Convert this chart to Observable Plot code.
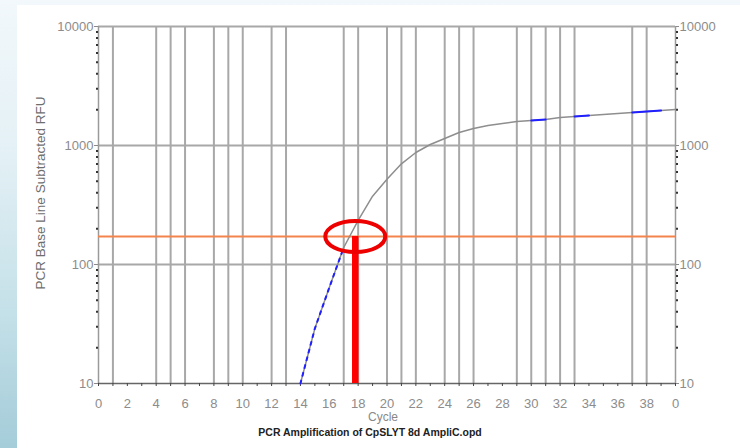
<!DOCTYPE html>
<html><head><meta charset="utf-8">
<script src="https://cdn.jsdelivr.net/npm/d3@7"></script>
<script src="https://cdn.jsdelivr.net/npm/@observablehq/plot@0.6"></script>
<style>
html,body{margin:0;padding:0;width:740px;height:448px;overflow:hidden;}
body{position:relative;background:linear-gradient(180deg,#f2f8fb 0%,#e3f0f5 35%,#c4e0e8 70%,#a4ccd9 100%);font-family:"Liberation Sans",Arial,sans-serif;}
#panel{position:absolute;left:17px;top:5px;right:0;bottom:0;background:#fff;}
#chart{position:absolute;left:0;top:0;}
</style></head><body>
<div id="panel"></div>
<div id="chart"></div>
<script>
// ---- data ----
const cycles = [14,15,16,17,18,19,20,21,22,23,24,25,26,27,28,29,30,31,32,33,34,35,36,37,38,39,40];
const rfu = [10,29,64,139,235,375,520,702,873,1019,1145,1286,1389,1472,1530,1592,1622,1652,1718,1753,1787,1822,1857,1893,1930,1967,2008];
const gridCycles = [1,4,5,6,8,9,10,12,13,17,18,20,21,22,24,25,26,29,30,31,32,33,37,38];
const allCycleTicks = [0,1,2,3,4,5,6,7,8,9,10,11,12,13,14,15,16,17,18,19,20,21,22,23,24,25,26,27,28,29,30,31,32,33,34,35,36,37,38,39,40];
const xTickValues = [0,2,4,6,8,10,12,14,16,18,20,22,24,26,28,30,32,34,36,38,40];
const xTickLabels = ["0","2","4","6","8","10","12","14","16","18","20","22","24","26","28","30","32","34","36","38","0"];
const yTickValues = [10,100,1000,10000];
const yTickLabels = ["10","100","1000","10000"];
const yMinorTicks = [20,30,40,50,60,70,80,90,200,300,400,500,600,700,800,900,2000,3000,4000,5000,6000,7000,8000,9000];
const blueRanges = [[30,31],[33,34],[37,39]];
const blueDashedRange = [14,17];
const threshold = 172;
const ctCycle = 17.8;
const yTitle = "PCR Base Line Subtracted RFU";
const xTitle = "Cycle";
const caption = "PCR Amplification of CpSLYT 8d AmpliC.opd";

// ---- build tables ----
const curve = cycles.map((c, i) => ({cycle: c, rfu: rfu[i]}));
const blueSegs = blueRanges.flatMap((r, k) => curve.filter(d => d.cycle >= r[0] && d.cycle <= r[1]).map(d => ({...d, seg: k})));
const blueDashed = curve.filter(d => d.cycle >= blueDashedRange[0] && d.cycle <= blueDashedRange[1]);
const xLab = new Map(xTickValues.map((v, i) => [v, xTickLabels[i]]));
const yLab = new Map(yTickValues.map((v, i) => [v, yTickLabels[i]]));

const k = 0.5523;
const ellipse = {draw(ctx) {
  const rx = 30, ry = 15.5;
  ctx.moveTo(rx, 0);
  ctx.bezierCurveTo(rx, k*ry, k*rx, ry, 0, ry);
  ctx.bezierCurveTo(-k*rx, ry, -rx, k*ry, -rx, 0);
  ctx.bezierCurveTo(-rx, -k*ry, -k*rx, -ry, 0, -ry);
  ctx.bezierCurveTo(k*rx, -ry, rx, -k*ry, rx, 0);
  ctx.closePath();
}};

const grid = "#a8a8a8";
const tickCol = "#8a8a8a";
const labCol = "#8c8c8c";

const chart = Plot.plot({
  width: 740, height: 448,
  marginLeft: 98, marginRight: 65, marginTop: 26, marginBottom: 65,
  style: "background: transparent; overflow: visible; font-family: 'Liberation Sans', Arial, sans-serif;",
  x: {domain: [0, 40]},
  y: {type: "log", domain: [10, 10000]},
  marks: [
    Plot.ruleX(gridCycles, {stroke: grid, strokeWidth: 2}),
    Plot.ruleY([100, 1000, 10000], {stroke: grid, strokeWidth: 2}),
    Plot.ruleX([0, 40], {stroke: "#9a9a9a", strokeWidth: 1.5}),
    Plot.ruleY([10], {stroke: "#666", strokeWidth: 1.5}),
    // bottom axis ticks and labels
    Plot.axisX(allCycleTicks, {anchor: "bottom", tickSize: 3, tickFormat: () => "", stroke: "#444"}),
    Plot.axisX(xTickValues, {anchor: "bottom", tickSize: 0, tickPadding: 15, tickFormat: d => xLab.get(d), fill: labCol, fontSize: 13}),
    // left axis
    Plot.axisY(yMinorTicks, {anchor: "left", tickSize: 2, tickFormat: () => "", stroke: "#333", strokeWidth: 2}),
    Plot.axisY(yTickValues, {anchor: "left", tickSize: 4, tickPadding: 1, tickFormat: d => yLab.get(d), fill: labCol, stroke: tickCol, fontSize: 13}),
    // right axis
    Plot.axisY(yMinorTicks, {anchor: "right", tickSize: 2, tickFormat: () => "", stroke: "#333", strokeWidth: 2}),
    Plot.axisY(yTickValues, {anchor: "right", tickSize: 3, tickPadding: 1, tickFormat: d => yLab.get(d), fill: labCol, stroke: tickCol, fontSize: 13}),
    // threshold
    Plot.ruleY([threshold], {stroke: "#f4844c", strokeWidth: 2}),
    // amplification curve
    Plot.line(curve, {x: "cycle", y: "rfu", stroke: "#8e8e8e", strokeWidth: 1.5}),
    Plot.line(blueDashed, {x: "cycle", y: "rfu", stroke: "#1f1fff", strokeWidth: 2, strokeDasharray: "3,5"}),
    Plot.line(blueSegs, {x: "cycle", y: "rfu", z: "seg", stroke: "#1f1fff", strokeWidth: 2}),
    // annotation
    Plot.ruleX([ctCycle], {y1: threshold, y2: 10, stroke: "#ff0000", strokeWidth: 6.5}),
    Plot.dot([{x: ctCycle, y: threshold}], {x: "x", y: "y", symbol: ellipse, stroke: "#ee0000", strokeWidth: 4, fill: "none"}),
    // titles
    Plot.text([yTitle], {frameAnchor: "left", textAnchor: "middle", rotate: -90, dx: -58, dy: -12, fill: "#6e6e6e", fontSize: 13.5}),
    Plot.text([xTitle], {frameAnchor: "bottom", dx: -4, dy: 37, fill: "#888", fontSize: 12}),
    Plot.text([caption], {frameAnchor: "bottom", dx: -17, dy: 52, fill: "#222", fontSize: 10.5, fontWeight: "bold"})
  ]
});
document.getElementById("chart").appendChild(chart);
</script>
</body></html>
